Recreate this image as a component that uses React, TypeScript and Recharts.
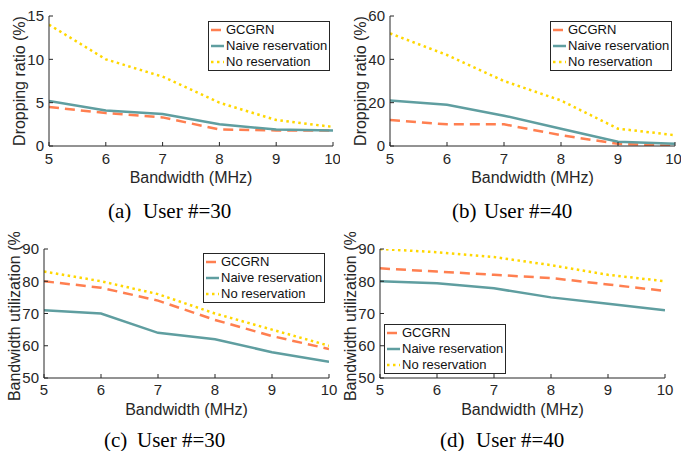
import React from 'react';
import { LineChart, Line, XAxis, YAxis, Legend } from 'recharts';

// ---- data ----
const bandwidth = [5, 6, 7, 8, 9, 10];
const seriesNames = ['GCGRN', 'Naive reservation', 'No reservation'];

const dropGcgrn30 = [4.5, 3.8, 3.3, 1.9, 1.8, 1.8];
const dropNaive30 = [5.2, 4.1, 3.7, 2.5, 1.9, 1.8];
const dropNone30 = [14, 10, 8, 5, 3, 2.2];

const dropGcgrn40 = [12, 10, 10, 5, 1, 0];
const dropNaive40 = [21, 19, 14, 8, 2, 1];
const dropNone40 = [52, 42, 30, 21, 8, 5];

const utilGcgrn30 = [80, 78, 74, 68, 63, 59];
const utilNaive30 = [71, 70, 64, 62, 58, 55];
const utilNone30 = [83, 80, 76, 70, 65, 60];

const utilGcgrn40 = [84, 83, 82, 81, 79, 77];
const utilNaive40 = [80, 79.4, 77.8, 75, 73, 71];
const utilNone40 = [90, 89, 87.5, 85, 82, 80];

const xTicks = [5, 6, 7, 8, 9, 10];
const dropTicks30 = [0, 5, 10, 15];
const dropTicks40 = [0, 20, 40, 60];
const utilTicks = [50, 60, 70, 80, 90];

const xLabelText = 'Bandwidth (MHz)';
const dropLabelText = 'Dropping ratio (%)';
const utilLabelText = 'Bandwidth utilization (%)';

const captions = [
  { tag: '(a)', text: 'User #=30' },
  { tag: '(b)', text: 'User #=40' },
  { tag: '(c)', text: 'User #=30' },
  { tag: '(d)', text: 'User #=40' },
];

// ---- styles ----
const SANS = '"Liberation Sans", Arial, Helvetica, sans-serif';
const SERIF = '"Liberation Serif", "Times New Roman", serif';
const AXIS = '#262626';
const seriesStyles = [
  { key: 'g', color: '#FF7F50', dash: '10 6' },
  { key: 'n', color: '#5F9EA0', dash: undefined },
  { key: 'o', color: '#FFD700', dash: '2.5 3.5' },
];

type PanelProps = {
  left: number; top: number; width: number; height: number;
  plotL: number; plotR: number; plotT: number; plotB: number;
  g: number[]; n: number[]; o: number[];
  yDomain: [number, number]; yTicks: number[]; yLabel: string;
  legendLeft: number; legendTop: number; xTickMargin: number;
};

const LegendBox = () => (
  <div style={{
    width: 122, height: 50, border: `1px solid ${AXIS}`, background: '#fff',
    boxSizing: 'border-box', fontFamily: SANS, fontSize: 13, color: '#111', paddingTop: 0,
  }}>
    {seriesNames.map((name, i) => (
      <div key={name} style={{ display: 'flex', alignItems: 'center', height: 16, whiteSpace: 'nowrap' }}>
        <svg width={16} height={16} style={{ display: 'block', marginLeft: 1 }}>
          <line x1={1} x2={14} y1={8} y2={8} stroke={seriesStyles[i].color} strokeWidth={2.5}
            strokeDasharray={seriesStyles[i].dash} />
        </svg>
        <span style={{ lineHeight: '16px' }}>{name}</span>
      </div>
    ))}
  </div>
);

const Panel = (p: PanelProps) => {
  const rows = bandwidth.map((bw, i) => ({ bw, g: p.g[i], n: p.n[i], o: p.o[i] }));
  const xl = () => (
    <text x={(p.plotL + p.plotR) / 2} y={p.plotB + 37} textAnchor="middle" fontFamily={SANS}
      fontSize={16} fill={AXIS}>{xLabelText}</text>
  );
  const yl = () => (
    <text x={0} y={0} transform={`translate(${p.plotL - 24.5},${(p.plotT + p.plotB) / 2}) rotate(-90)`}
      textAnchor="middle" fontFamily={SANS} fontSize={16} fill={AXIS}>{p.yLabel}</text>
  );
  const tickStyle = { fontSize: 15, fill: AXIS, fontFamily: SANS };
  return (
    <div style={{ position: 'absolute', left: p.left, top: p.top }}>
      <LineChart width={p.width} height={p.height} data={rows}
        margin={{ top: p.plotT, right: p.width - p.plotR, bottom: 0, left: 0 }}>
        <XAxis xAxisId="b" dataKey="bw" type="number" domain={[5, 10]} ticks={xTicks}
          height={p.height - p.plotB} tickSize={-4} tickMargin={p.xTickMargin}
          stroke={AXIS} tick={tickStyle} allowDataOverflow label={{ content: xl }} />
        <XAxis xAxisId="t" orientation="top" dataKey="bw" type="number" domain={[5, 10]}
          ticks={xTicks} height={0} tickSize={-4} tick={false} stroke={AXIS} allowDataOverflow />
        <YAxis yAxisId="l" type="number" domain={p.yDomain} ticks={p.yTicks} width={p.plotL}
          tickSize={-4} tickMargin={9} stroke={AXIS} tick={tickStyle} allowDataOverflow
          label={{ content: yl }} />
        <YAxis yAxisId="r" orientation="right" type="number" domain={p.yDomain} ticks={p.yTicks}
          width={0} tickSize={-4} tick={false} stroke={AXIS} allowDataOverflow />
        {seriesStyles.map((s, i) => (
          <Line key={s.key} xAxisId="b" yAxisId="l" type="linear" dataKey={s.key} name={seriesNames[i]}
            stroke={s.color} strokeWidth={2.5} strokeDasharray={s.dash} dot={false}
            activeDot={false} isAnimationActive={false} />
        ))}
        <Legend layout="vertical" align="center" verticalAlign="middle" content={() => <LegendBox />}
          wrapperStyle={{ left: p.legendLeft, top: p.legendTop, width: 122, height: 50 }} />
      </LineChart>
    </div>
  );
};

export default function App() {
  return (
    <div style={{ position: 'fixed', left: 0, top: 0, width: 681, height: 451, background: '#fff', overflow: 'hidden' }}>
      <svg width={681} height={451} style={{ position: 'absolute', left: 0, top: 0 }}>
        {[
          { x1: 108, x2: 143, y: 218 },
          { x1: 452, x2: 484, y: 218 },
          { x1: 104, x2: 137, y: 447 },
          { x1: 440, x2: 476, y: 447 },
        ].map((c, i) => (
          <g key={i} fontFamily={SERIF} fontSize={21} fill="#000">
            <text x={c.x1} y={c.y}>{captions[i].tag}</text>
            <text x={c.x2} y={c.y}>{captions[i].text}</text>
          </g>
        ))}
      </svg>
      <Panel left={0} top={0} width={340} height={200} plotL={49} plotR={333} plotT={16} plotB={146}
        g={dropGcgrn30} n={dropNaive30} o={dropNone30} yDomain={[0, 15]} yTicks={dropTicks30}
        yLabel={dropLabelText} legendLeft={208} legendTop={21} xTickMargin={11} />
      <Panel left={340} top={0} width={341} height={200} plotL={50} plotR={335} plotT={16} plotB={146}
        g={dropGcgrn40} n={dropNaive40} o={dropNone40} yDomain={[0, 60]} yTicks={dropTicks40}
        yLabel={dropLabelText} legendLeft={210} legendTop={21} xTickMargin={11} />
      <Panel left={0} top={232} width={340} height={190} plotL={44} plotR={329} plotT={17} plotB={146}
        g={utilGcgrn30} n={utilNaive30} o={utilNone30} yDomain={[50, 90]} yTicks={utilTicks}
        yLabel={utilLabelText} legendLeft={203} legendTop={21} xTickMargin={10} />
      <Panel left={340} top={232} width={341} height={190} plotL={40} plotR={325} plotT={17} plotB={146}
        g={utilGcgrn40} n={utilNaive40} o={utilNone40} yDomain={[50, 90]} yTicks={utilTicks}
        yLabel={utilLabelText} legendLeft={44} legendTop={92} xTickMargin={10} />
    </div>
  );
}
